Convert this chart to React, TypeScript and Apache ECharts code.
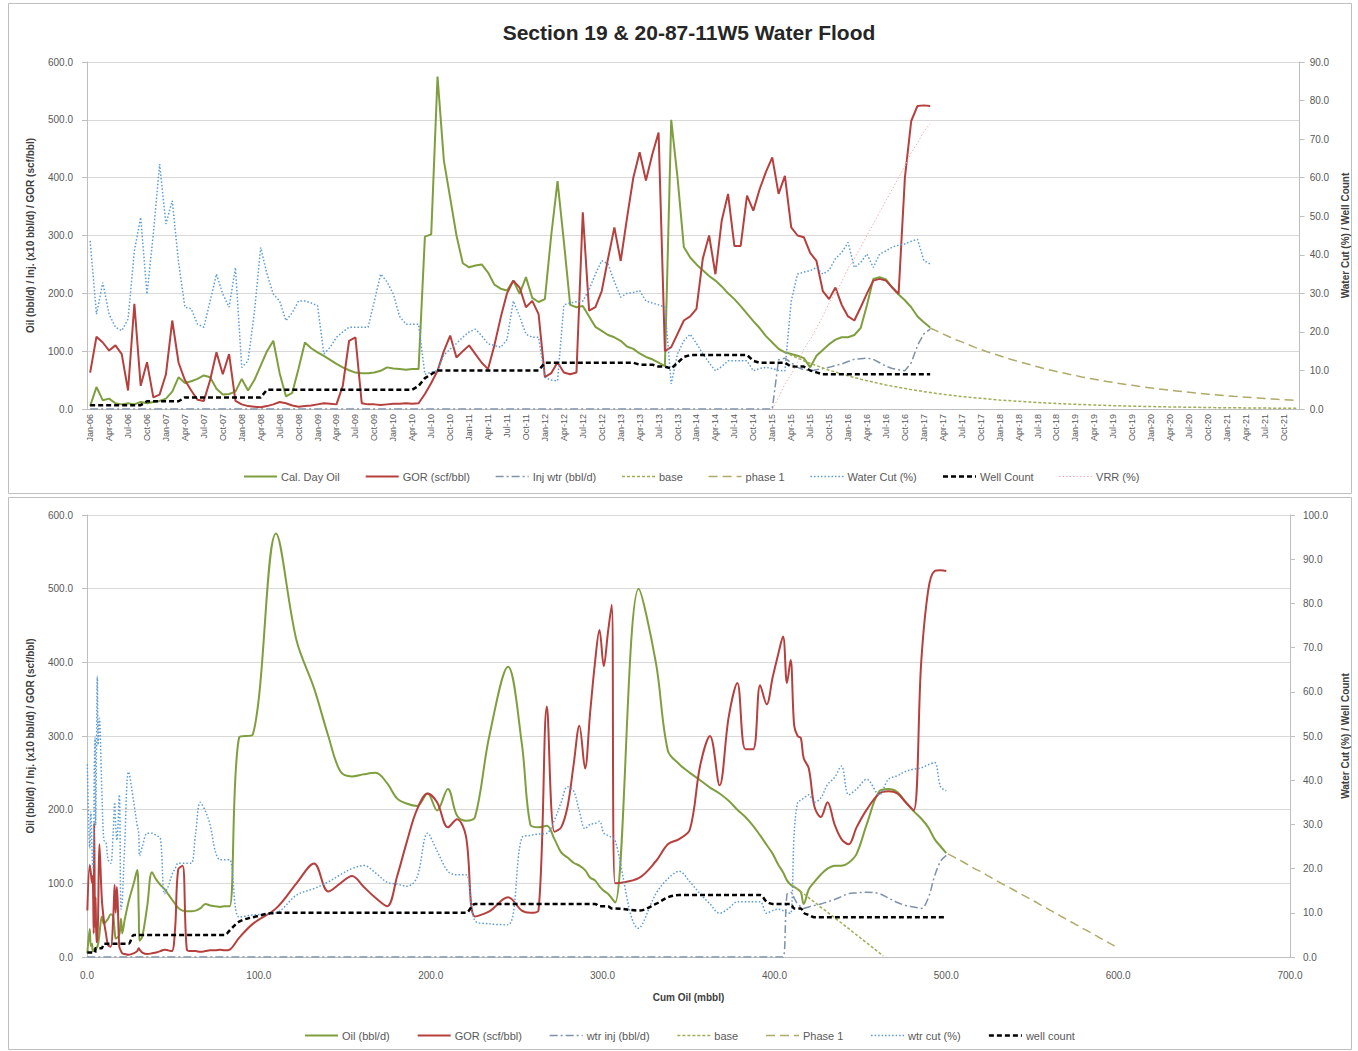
import React, { useEffect, useRef } from "react";
import * as echarts from "echarts";

const FONT = "'Liberation Sans', Arial, sans-serif";

// ---------- categories ----------
const MONTH_NAMES = ["Jan", "Feb", "Mar", "Apr", "May", "Jun", "Jul", "Aug", "Sep", "Oct", "Nov", "Dec"];
const FIRST_YEAR = 2006;
const MONTH_COUNT = 192; // Jan-06 .. Dec-21
const monthLabels: string[] = [];
for (let i = 0; i < MONTH_COUNT; i++) {
  const yy = (FIRST_YEAR + Math.floor(i / 12)) % 100;
  monthLabels.push(`${MONTH_NAMES[i % 12]}-${String(yy).padStart(2, "0")}`);
}

// ---------- monthly history (Jan-06 .. Feb-17) ----------
const oil = [
  5, 38, 15, 18, 10, 8, 10, 8, 12, 10,
  12, 14, 18, 30, 55, 45, 48, 52, 58, 55,
  35, 25, 26, 30, 52, 32, 50, 75, 100, 118,
  62, 22, 28, 70, 115, 105, 98, 92, 85, 78,
  72, 67, 63, 62, 62, 63, 66, 72, 70, 69,
  68, 69, 69, 298, 302, 575, 430, 365, 300, 252,
  245, 248, 250, 236, 215, 208, 205, 222, 199, 228,
  192, 185, 190, 300, 394, 290, 180, 176, 178, 160,
  142, 135, 128, 124, 118, 108, 104, 96, 90, 86,
  80, 74, 500, 400, 280, 262, 250, 240, 230, 222,
  212, 200, 190, 178, 165, 152, 140, 126, 115, 104,
  98, 95, 92, 88, 72, 92, 102, 112, 120, 124,
  124, 128, 140, 180, 225, 228, 224, 210, 198, 188,
  176, 160, 150, 141,
];

const gor = [
  63, 125, 115, 101, 110, 95, 32, 182, 40, 81,
  20, 25, 60, 153, 80, 50, 32, 16, 14, 50,
  98, 60, 95, 14, 8, 5, 4, 3, 5, 8,
  12, 10, 6, 4, 5, 6, 8, 10, 9, 8,
  40, 118, 124, 10, 8, 8, 7, 8, 9, 9,
  10, 9, 10, 26, 45, 66, 100, 127, 89, 100,
  110, 95, 80, 69, 110, 158, 200, 222, 210, 176,
  187, 164, 55, 62, 81, 63, 60, 63, 340, 170,
  176, 204, 260, 314, 256, 330, 400, 444, 395, 440,
  478, 100, 107, 130, 153, 160, 173, 260, 300, 233,
  326, 372, 282, 282, 369, 343, 380, 410, 435, 372,
  403, 314, 300, 297, 270, 256, 204, 190, 210, 180,
  160, 153, 176, 200, 222, 225, 222, 210, 199, 400,
  498, 524, 525, 524,
];

const waterCut = [
  43.6, 24.6, 32.8, 24.6, 21.2, 20.3, 23.3, 41, 49.7, 29.8,
  45.4, 63.5, 48, 54, 38, 26.4, 26, 22, 21.2, 28,
  35, 29.8, 26.4, 36.7, 10.8, 12.5, 25, 41.9, 35, 29.8,
  28, 22.9, 25, 28, 28, 27.5, 26.8, 14.3, 16, 18.6,
  20, 21.2, 21.2, 21.2, 21.2, 28, 35, 33, 29.8, 24,
  22, 22, 22, 9, 9.5, 10, 14, 15.5, 17, 18.6,
  20, 20.7, 19, 16.9, 16.5, 16, 18, 28, 24, 19.4,
  18.6, 18.6, 8.2, 7.5, 7.3, 27, 27.5, 27.8, 28, 31,
  35, 38.5, 37.6, 33, 29, 30, 30.2, 30.7, 28, 27.5,
  27, 26.4, 6.5, 14.3, 17.7, 19.4, 17, 14.3, 12, 9.9,
  11, 12.5, 12.5, 12.5, 12.5, 9.9, 10.5, 10.8, 10.5, 10,
  9.9, 28, 35, 35.5, 35.9, 36.7, 35, 36, 39, 40.6,
  43.2, 36.7, 38, 40.2, 36.7, 40.2, 41, 42, 42.5, 42.8,
  43.5, 44, 38.5, 37.6,
];

const wellCount = [
  1, 1, 1, 1, 1, 1, 1, 1, 1, 2,
  2, 2, 2, 2, 2, 3, 3, 3, 3, 3,
  3, 3, 3, 3, 3, 3, 3, 3, 5, 5,
  5, 5, 5, 5, 5, 5, 5, 5, 5, 5,
  5, 5, 5, 5, 5, 5, 5, 5, 5, 5,
  5, 5, 6, 8, 9, 10, 10, 10, 10, 10,
  10, 10, 10, 10, 10, 10, 10, 10, 10, 10,
  10, 10, 12, 12, 12, 12, 12, 12, 12, 12,
  12, 12, 12, 12, 12, 12, 12, 11.5, 11.5, 11.5,
  11, 11, 10.5, 12, 13.5, 14, 14, 14, 14, 14,
  14, 14, 14, 14, 14, 12.5, 12, 12, 12, 12,
  12, 11, 11, 11, 10, 9.5, 9, 9, 9, 9,
  9, 9, 9, 9, 9, 9, 9, 9, 9, 9,
  9, 9, 9, 9,
];

// cumulative oil (mbbl) at each month
const cumOil = [
  0.2, 1.6, 2.2, 2.9, 3.2, 3.5, 3.9, 4.2, 4.7, 5.0,
  5.5, 6.0, 6.5, 7.2, 8.6, 9.8, 11.0, 12.3, 13.8, 15.2,
  16.1, 16.7, 17.4, 18.8, 19.8, 20.5, 21.9, 24.2, 27.2, 29.2,
  30.1, 30.6, 32.2, 35.1, 37.8, 40.3, 42.7, 45.1, 47.3, 49.4,
  51.3, 53.0, 55.6, 58.1, 60.7, 63.2, 65.9, 68.9, 71.7, 74.6,
  77.4, 80.2, 83.0, 88.5, 96.5, 110.0, 121.9, 132.1, 140.4, 147.4,
  154.2, 161.1, 168.0, 174.6, 180.5, 186.3, 192.0, 198.2, 203.7, 210.0,
  215.3, 220.5, 225.8, 234.1, 245.0, 253.0, 257.9, 262.7, 267.6, 272.0,
  275.9, 279.6, 283.1, 286.5, 289.8, 292.7, 295.6, 298.2, 300.7, 303.1,
  305.3, 307.3, 321.0, 331.0, 338.0, 344.5, 350.8, 356.8, 362.5, 368.1,
  373.4, 378.4, 383.1, 387.6, 391.7, 395.5, 399.0, 402.1, 405.0, 407.3,
  409.4, 411.5, 413.5, 415.4, 417.0, 420.0, 423.3, 427.0, 430.9, 435.0,
  439.0, 443.2, 447.8, 453.7, 461.0, 466.3, 471.5, 476.4, 481.0, 485.4,
  489.5, 493.2, 496.7, 500.0,
];

// water injection (x10 bbl/d): zero until INJ_START, then these months
const INJ_START = 108;
const injection = [
  0, 85, 88, 80, 72, 68, 66, 68, 70, 72,
  75, 78, 82, 86, 87, 88, 86, 80, 74, 70,
  68, 66, 80, 110, 130, 138,
];

// voidage replacement ratio (%), from INJ_START
const vrr = [
  0, 3, 6.5, 9, 12, 15.5, 18, 21, 24, 27.5,
  30, 33, 36.5, 39, 42, 45, 48, 51, 54, 57,
  60, 63, 66.5, 69, 72, 74,
];

// base decline forecast from BASE_START
const BASE_START = 110;
const base = [
  98, 93, 88, 83.5, 79, 75, 71, 67, 64, 60.5,
  57.5, 54.5, 51.5, 49, 46.5, 44, 41.5, 39.5, 37.5, 35.5,
  33.5, 32, 30, 28.5, 27, 25.5, 24, 23, 21.5, 20.5,
  19.5, 18.5, 17.5, 16.5, 15.5, 14.8, 14, 13.3, 12.6, 11.9,
  11.3, 10.7, 10.1, 9.6, 9.1, 8.6, 8.1, 7.7, 7.3, 6.9,
  6.5, 6.2, 5.8, 5.5, 5.2, 4.9, 4.7, 4.4, 4.2, 4.0,
  3.8, 3.6, 3.4, 3.2, 3.0, 2.9, 2.7, 2.6, 2.4, 2.3,
  2.2, 2.1, 2.0, 1.9, 1.8, 1.7, 1.6, 1.5, 1.4, 1.3,
  1.25, 1.2,
];

// phase 1 forecast from PHASE_START
const PHASE_START = 133;
const phase1 = [
  140, 135, 130, 125, 120, 116, 111.5, 107, 103, 99,
  95.5, 92, 88.5, 85, 82, 79, 76, 73, 70, 67.5,
  65, 62.5, 60, 58, 55.5, 53.5, 51.5, 49.5, 47.5, 46,
  44, 42.5, 41, 39.3, 37.8, 36.4, 35, 33.7, 32.4, 31.2,
  30, 28.9, 27.8, 26.7, 25.7, 24.7, 23.8, 22.9, 22, 21.2,
  20.4, 19.6, 18.9, 18.1, 17.5, 16.8, 16.2, 15.6, 15,
];

const leftTicks = { min: 0, max: 600, interval: 100 };
const rightTicksTop = { min: 0, max: 90, interval: 10 };
const rightTicksBottom = { min: 0, max: 100, interval: 10 };
const cumTicks = { min: 0, max: 700, interval: 100 };
const DAYS_PER_MONTH = 30.4;

// ---------- helpers ----------
const pad = (vals: number[], start: number) =>
  monthLabels.map((_, i) => (i >= start && i - start < vals.length ? vals[i - start] : null));

const injMonthly = monthLabels.map((_, i) =>
  i < INJ_START ? 0 : i - INJ_START < injection.length ? injection[i - INJ_START] : null
);

const cumPairs = (startCum: number, rates: number[]) => {
  let c = startCum;
  return rates.map((r) => {
    c += (r * DAYS_PER_MONTH) / 1000;
    return [Math.round(c * 100) / 100, r];
  });
};

const COLORS = {
  oil: "#7F9F3F",
  gor: "#B5403E",
  inj: "#7F91AB",
  base: "#9DAE55",
  phase: "#B0AA6A",
  wcut: "#5B9BD5",
  wells: "#000000",
  vrr: "#F0B0B0",
};

const STY = {
  oil: { color: COLORS.oil, width: 2, type: "solid" as any },
  gor: { color: COLORS.gor, width: 2, type: "solid" as any },
  inj: { color: COLORS.inj, width: 1.5, type: [8, 3, 2, 3] },
  base: { color: COLORS.base, width: 1.5, type: [3, 2] },
  phase: { color: COLORS.phase, width: 1.5, type: [9, 5] },
  wcut: { color: COLORS.wcut, width: 1.5, type: [1.5, 2] },
  wells: { color: COLORS.wells, width: 2.5, type: [5, 3] },
  vrr: { color: COLORS.vrr, width: 1, type: [1.5, 2] },
};

const mk = (name: string, data: any[], yAxisIndex: number, style: any, smooth: any = false) => ({
  type: "line",
  name,
  data,
  yAxisIndex,
  symbol: "none",
  showSymbol: false,
  smooth,
  lineStyle: style,
  itemStyle: { color: style.color },
  emphasis: { disabled: true },
});

const axisLabelStyle = { color: "#595959", fontSize: 10, fontFamily: FONT };
const nameStyle = { color: "#404040", fontSize: 10, fontWeight: "bold" as any, fontFamily: FONT };
const axisLineGray = { show: true, lineStyle: { color: "#BFBFBF" } };

const valueAxis = (ticks: any, name: string, position: string, gap: number, labelMargin: number, split: boolean) => ({
  type: "value",
  ...ticks,
  position,
  name,
  nameLocation: "middle",
  nameGap: gap,
  nameTextStyle: nameStyle,
  axisLine: axisLineGray,
  axisTick: { show: true, length: 5, lineStyle: { color: "#BFBFBF" } },
  axisLabel: { ...axisLabelStyle, margin: labelMargin, formatter: (v: number) => v.toFixed(1) },
  splitLine: { show: split, lineStyle: { color: "#D9D9D9", width: 1 } },
});

const legendBase = {
  itemWidth: 33,
  itemHeight: 12,
  textStyle: { color: "#595959", fontSize: 11, fontFamily: FONT, padding: [0, 0, 0, -1] },
  itemStyle: { opacity: 0 },
  lineStyle: { width: "inherit" },
  selectedMode: false,
};

const LEFT_NAME = "Oil (bbl/d) / Inj. (x10 bbl/d) / GOR (scf/bbl)";
const RIGHT_NAME = "Water Cut (%) / Well Count";

function buildTop(): any {
  const names = ["Cal. Day Oil", "GOR (scf/bbl)", "Inj wtr (bbl/d)", "base", "phase 1", "Water Cut (%)", "Well Count", "VRR (%)"];
  return {
    animation: false,
    title: {
      text: "Section 19 & 20-87-11W5 Water Flood",
      left: 684,
      textAlign: "center",
      top: 17,
      textStyle: { fontSize: 21, fontWeight: "bold", color: "#262626", fontFamily: FONT },
    },
    graphic: [
      { type: "rect", shape: { x: 8.5, y: 3.5, width: 1343, height: 490 }, style: { fill: "none", stroke: "#BFBFBF", lineWidth: 1 }, silent: true },
    ],
    grid: { left: 87, right: 58, top: 62, bottom: 86 },
    legend: { ...legendBase, left: 238, itemGap: 25, top: 466, data: names },
    xAxis: {
      type: "category",
      data: monthLabels,
      boundaryGap: true,
      axisLine: axisLineGray,
      axisTick: { show: false },
      axisLabel: { ...axisLabelStyle, fontSize: 9, rotate: 90, interval: 2, margin: 5 },
      splitLine: { show: false },
    },
    yAxis: [
      valueAxis(leftTicks, LEFT_NAME, "left", 52, 14, true),
      valueAxis(rightTicksTop, RIGHT_NAME, "right", 38, 10, false),
    ],
    series: [
      mk(names[0], pad(oil, 0), 0, STY.oil),
      mk(names[1], pad(gor, 0), 0, STY.gor),
      mk(names[2], injMonthly, 0, STY.inj),
      mk(names[3], pad(base, BASE_START), 0, STY.base),
      mk(names[4], pad(phase1, PHASE_START), 0, STY.phase),
      mk(names[5], pad(waterCut, 0), 1, STY.wcut),
      mk(names[6], pad(wellCount, 0), 1, STY.wells),
      mk(names[7], pad(vrr, INJ_START), 1, STY.vrr),
    ],
  };
}

function buildBottom(): any {
  const names = ["Oil (bbl/d)", "GOR (scf/bbl)", "wtr inj (bbl/d)", "base", "Phase 1", "wtr cut (%)", "well count"];
  const xy = (vals: any[]) => cumOil.map((c, i) => [c, vals[i]]);
  const injXY = cumOil.map((c, i) => [c, injMonthly[i]]);
  const baseXY = cumPairs(cumOil[BASE_START - 1], base);
  const phaseXY = cumPairs(cumOil[PHASE_START - 1], phase1);
  const SM = 0.35;
  return {
    animation: false,
    graphic: [
      { type: "rect", shape: { x: 8.5, y: 2.5, width: 1343, height: 552 }, style: { fill: "none", stroke: "#BFBFBF", lineWidth: 1 }, silent: true },
    ],
    grid: { left: 87, right: 68, top: 20, bottom: 94 },
    legend: { ...legendBase, left: 299, itemGap: 27, top: 530, data: names },
    xAxis: {
      type: "value",
      ...cumTicks,
      name: "Cum Oil (mbbl)",
      nameLocation: "middle",
      nameGap: 35,
      nameTextStyle: nameStyle,
      axisLine: axisLineGray,
      axisTick: { show: false },
      axisLabel: { ...axisLabelStyle, margin: 13, formatter: (v: number) => v.toFixed(1) },
      splitLine: { show: false },
    },
    yAxis: [
      valueAxis(leftTicks, LEFT_NAME, "left", 52, 14, true),
      valueAxis(rightTicksBottom, RIGHT_NAME, "right", 50, 13, false),
    ],
    series: [
      mk(names[0], xy(oil), 0, STY.oil, SM),
      mk(names[1], xy(gor), 0, STY.gor, SM),
      mk(names[2], injXY, 0, STY.inj, SM),
      mk(names[3], baseXY, 0, STY.base, SM),
      mk(names[4], phaseXY, 0, STY.phase, SM),
      mk(names[5], xy(waterCut), 1, STY.wcut, SM),
      mk(names[6], xy(wellCount), 1, STY.wells, SM),
    ],
  };
}

export default function App() {
  const topRef = useRef<HTMLDivElement>(null);
  const botRef = useRef<HTMLDivElement>(null);
  useEffect(() => {
    const c1 = echarts.init(topRef.current!, null, { renderer: "svg" });
    const c2 = echarts.init(botRef.current!, null, { renderer: "svg" });
    c1.setOption(buildTop());
    c2.setOption(buildBottom());
    return () => {
      c1.dispose();
      c2.dispose();
    };
  }, []);
  return (
    <div style={{ position: "absolute", left: 0, top: 0, width: 1358, height: 1051, background: "#fff", overflow: "hidden" }}>
      <div ref={topRef} style={{ position: "absolute", left: 0, top: 0, width: 1358, height: 495 }} />
      <div ref={botRef} style={{ position: "absolute", left: 0, top: 495, width: 1358, height: 556 }} />
    </div>
  );
}
